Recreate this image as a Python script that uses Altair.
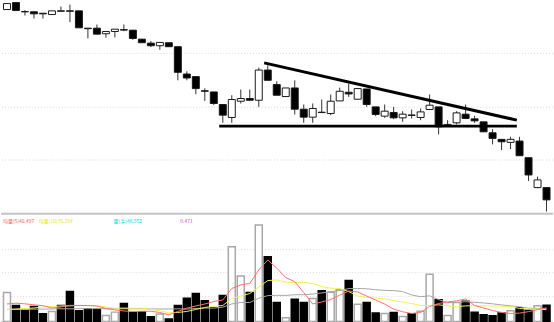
import altair as alt
import pandas as pd

# --- candle data (price units), one entry per trading day ---
opens = [29.10, 29.80, 28.90, 28.87, 28.73, 28.60, 28.97, 28.97, 28.97, 27.23,
         27.23, 26.67, 26.90, 27.08, 27.03, 26.13, 25.73, 25.47, 25.77, 25.37,
         22.63, 22.37, 20.95, 20.83, 19.57, 18.27, 19.90, 20.17, 20.00, 23.03,
         21.57, 20.37, 21.23, 19.10, 18.30, 18.80, 18.67, 19.93, 20.80, 20.10,
         21.13, 19.33, 18.40, 18.77, 18.23, 18.52, 18.27, 19.07, 19.33, 17.37,
         17.73, 18.60, 18.13, 17.83, 16.73, 16.07, 15.77, 15.90, 14.23, 11.23,
         11.23]
closes = [29.70, 29.00, 28.87, 28.67, 28.67, 28.97, 28.93, 28.93, 27.27, 27.18,
          26.63, 26.90, 27.13, 27.04, 26.20, 25.77, 25.47, 25.80, 25.37, 22.80,
          22.23, 21.17, 20.90, 19.67, 18.50, 20.07, 20.17, 20.00, 23.03, 22.00,
          20.50, 21.23, 19.10, 18.30, 19.17, 18.76, 19.90, 20.90, 20.63, 21.17,
          19.57, 18.57, 18.90, 18.23, 18.60, 18.48, 18.83, 19.50, 17.33, 17.57,
          18.73, 18.17, 17.93, 16.83, 16.17, 15.83, 16.07, 14.43, 12.50, 12.00,
          10.00]
highs = [29.73, 29.80, 29.05, 28.90, 28.73, 28.97, 29.40, 29.60, 28.97, 27.23,
         27.60, 26.90, 27.13, 27.60, 27.03, 26.13, 25.93, 25.80, 25.77, 25.37,
         22.90, 22.37, 21.20, 20.83, 19.57, 20.50, 21.07, 21.07, 23.27, 23.50,
         21.90, 21.23, 22.00, 19.57, 19.67, 20.07, 20.57, 21.27, 21.67, 21.23,
         21.13, 19.33, 19.57, 19.33, 18.90, 19.07, 19.17, 20.57, 19.33, 18.00,
         18.90, 19.57, 18.43, 17.83, 17.10, 16.07, 16.33, 16.33, 14.23, 12.33,
         11.23]
lows = [29.10, 29.00, 28.50, 28.20, 28.20, 28.60, 28.93, 27.83, 27.27, 26.20,
        26.63, 26.27, 26.30, 26.93, 26.07, 25.77, 25.33, 25.07, 25.37, 22.00,
        22.00, 20.60, 19.93, 19.53, 17.73, 17.73, 19.67, 19.93, 19.33, 22.00,
        20.50, 20.37, 18.57, 17.73, 17.73, 18.75, 18.50, 19.93, 20.33, 20.10,
        19.33, 18.40, 18.23, 18.10, 17.83, 18.17, 18.00, 19.07, 16.57, 17.37,
        17.57, 18.10, 17.73, 16.83, 15.57, 15.00, 15.10, 14.43, 11.90, 11.17,
        8.83]

# --- volume and its moving averages ---
volumes = [87, 48, 33, 45, 23, 30, 48, 90, 32, 38,
           37, 18, 28, 54, 27, 29, 14, 22, 7, 48,
           70, 84, 62, 41, 78, 225, 137, 87, 290, 195,
           57, 11, 67, 57, 69, 92, 88, 95, 123, 52,
           57, 25, 24, 27, 15, 23, 31, 142, 65, 18,
           57, 61, 28, 20, 17, 25, 32, 41, 34, 47,
           49]
ma5 = [52.5, 55, 53, 50, 47.5, 40.5, 43.5, 48.5, 48, 48,
       46.5, 39, 34.5, 31.5, 30, 30.5, 30.5, 27, 20, 30,
       40, 46.5, 52.5, 60, 64.5, 99, 110, 114, 155, 185,
       160.5, 132, 120, 87, 52.5, 58.5, 66, 79, 91.5, 88.5,
       76.5, 64.5, 52.5, 37, 29, 24, 27, 45, 54, 58.5,
       62, 67.5, 48, 40.5, 33, 27, 24, 25, 29.5, 35.5,
       40.5]
ma10 = [36, 37.5, 39, 40.5, 43.5, 45, 46.5, 47, 48, 48,
        46.5, 43.5, 40, 40, 40, 40, 36, 32, 26, 27,
        30, 36, 42, 46, 48, 69, 76.5, 84, 103.5, 123,
        125, 118.5, 117, 118, 114, 105, 100, 99, 90, 76.5,
        72, 70.5, 67.5, 63, 58, 54, 48, 48, 50, 46.5,
        44, 47, 47, 47, 46.5, 45.5, 45, 39, 37, 37,
        35.4]
ma20 = [36, 36, 36.5, 37, 37, 37.5, 38, 38, 38.5, 38.5,
        38.5, 38, 38, 38, 38, 38, 37.5, 37.5, 37.5, 37.9,
        37.1, 38.9, 40.3, 40.1, 42.9, 52.6, 57.1, 56.9, 69.8, 77.7,
        78.7, 78.3, 80.3, 80.4, 82.5, 85.7, 89.4, 93, 98.8, 99,
        98.4, 95.4, 93.5, 92.8, 89.7, 79.6, 74.3, 77, 65.8, 56.9,
        56.9, 59.4, 57.5, 55.6, 53, 49.7, 46.9, 44.2, 39.7, 39.5,
        39.1]

# --- trend lines of the descending triangle (day index, price) ---
line_name = ["upper", "upper", "lower", "lower"]
line_day = [29.6, 57.7, 24.6, 57.7]
line_price = [23.75, 18.0, 17.4, 17.4]

grid_price = [24.7, 19.3, 14.0]
grid_vol = [216, 147, 75]

legend_text = ["均量(5)40.497", "均量(10)35.354", "量(手)48.552", "0.471"]
legend_color = ["#ff5a5a", "#e6e600", "#00d8e0", "#ff44ff"]
legend_x = [2, 38, 113, 180]

n = len(opens)
days = list(range(1, n + 1))
is_up = [c >= o for o, c in zip(opens, closes)]
df = pd.DataFrame({
    "day": days,
    "open": opens, "close": closes, "high": highs, "low": lows,
    "vol": volumes, "ma5": ma5, "ma10": ma10, "ma20": ma20,
    "bodyfill": ["#ffffff" if u else "#000000" for u in is_up],
    "volstroke": ["#a8a8a8" if u else "#000000" for u in is_up],
})

W = 554
xs = alt.Scale(domain=[0.335, 61.72], nice=False, zero=False, padding=0)
ps = alt.Scale(domain=[8.8, 30], nice=False, zero=False)
vs = alt.Scale(domain=[-6, 324], nice=False, zero=False)

X = alt.X("day:Q", scale=xs, axis=None)

grid_top = alt.Chart(pd.DataFrame({"p": grid_price})).mark_rule(
    color="#d8d8d8", strokeWidth=1, strokeDash=[1, 2]
).encode(y=alt.Y("p:Q", scale=ps, axis=None))

wick = alt.Chart(df).mark_rule(color="#333333", strokeWidth=1).encode(
    x=X, y=alt.Y("low:Q", scale=ps, axis=None), y2=alt.Y2("high:Q"))
body = alt.Chart(df).mark_bar(size=7, stroke="#1a1a1a", strokeWidth=1).encode(
    x=X, y=alt.Y("open:Q", scale=ps, axis=None), y2=alt.Y2("close:Q"),
    fill=alt.Fill("bodyfill:N", scale=None))

lines = alt.Chart(pd.DataFrame({"name": line_name, "day": line_day, "p": line_price})).mark_line(
    color="black", strokeWidth=3
).encode(x=X, y=alt.Y("p:Q", scale=ps, axis=None), detail="name:N")

top = alt.layer(grid_top, wick, body, lines).properties(width=W, height=212)

grid_bot = alt.Chart(pd.DataFrame({"v": grid_vol})).mark_rule(
    color="#dcdcdc", strokeWidth=1, strokeDash=[1, 2]
).encode(y=alt.Y("v:Q", scale=vs, axis=None))

sep = alt.Chart(pd.DataFrame({"v": [324, -3]})).mark_rule(
    color="#c4c4c4", strokeWidth=2
).encode(y=alt.Y("v:Q", scale=vs, axis=None))

vbars = alt.Chart(df).mark_bar(size=7, strokeWidth=1.5).encode(
    x=X, y=alt.Y("vol:Q", scale=vs, axis=None), y2=alt.datum(0),
    fill=alt.Fill("bodyfill:N", scale=None),
    stroke=alt.Stroke("volstroke:N", scale=None))

l20 = alt.Chart(df).mark_line(color="#a6a6a6", strokeWidth=1).encode(
    x=X, y=alt.Y("ma20:Q", scale=vs, axis=None))
l10 = alt.Chart(df).mark_line(color="#f2f24a", strokeWidth=1).encode(
    x=X, y=alt.Y("ma10:Q", scale=vs, axis=None))
l5 = alt.Chart(df).mark_line(color="#ff7070", strokeWidth=1).encode(
    x=X, y=alt.Y("ma5:Q", scale=vs, axis=None))

leg = alt.Chart(pd.DataFrame({"t": legend_text, "c": legend_color, "xp": legend_x})).mark_text(
    align="left", baseline="middle", fontSize=5, font="Noto Sans CJK SC"
).encode(x=alt.X("xp:Q", scale=alt.Scale(domain=[0, W], nice=False, zero=False, padding=0), axis=None),
         y=alt.value(7), text="t:N", color=alt.Color("c:N", scale=None))

bottom = alt.layer(grid_bot, sep, vbars, l20, l10, l5).properties(width=W, height=110)
bottom_all = alt.layer(bottom, leg).resolve_scale(x="independent")

chart = alt.vconcat(top, bottom_all, spacing=0).properties(
    padding=0, background="white"
).configure_view(strokeWidth=0)

chart.save("out.html", embed_options={"renderer": "svg", "actions": False})
